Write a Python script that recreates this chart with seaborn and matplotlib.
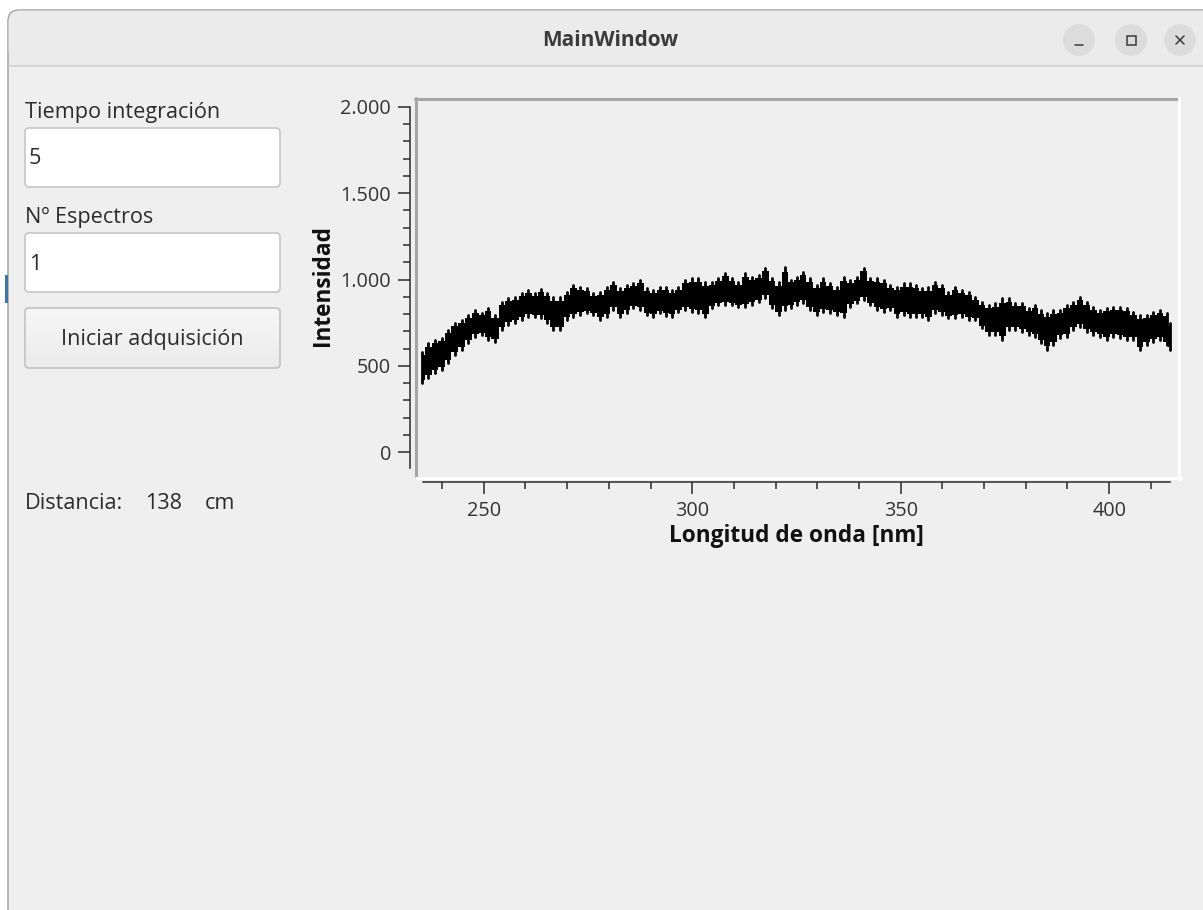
import numpy as np
import pandas as pd
import matplotlib
matplotlib.use("Agg")
import matplotlib.pyplot as plt
import seaborn as sns
from matplotlib.patches import FancyBboxPatch, Circle, Rectangle
from matplotlib.lines import Line2D
from matplotlib.colors import LinearSegmentedColormap
from matplotlib.ticker import MultipleLocator, FixedLocator, FuncFormatter

# Acquired spectrum: lowest and highest reading around each wavelength sample
wavelength_nm = [
    235.1, 236.7, 238.3, 240.0, 241.5, 243.0, 244.8, 246.3, 247.9, 249.6,
    251.0, 252.7, 254.4, 255.9, 257.5, 259.2, 260.7, 262.4, 263.8, 265.2,
    266.7, 268.3, 270.0, 271.5, 273.1, 274.8, 276.3, 277.9, 279.6, 281.1,
    282.7, 284.4, 285.9, 287.5, 289.2, 290.7, 292.3, 293.8, 295.2, 296.7,
    298.3, 300.0, 301.5, 303.1, 304.8, 306.3, 307.9, 309.6, 311.1, 312.7,
    314.4, 315.9, 317.5, 319.2, 320.7, 322.3, 323.7, 325.1, 326.6, 328.2,
    329.9, 331.4, 333.0, 334.7, 336.3, 337.9, 339.5, 341.1, 342.7, 344.4,
    345.9, 347.5, 349.2, 350.7, 352.3, 353.7, 355.1, 356.6, 358.2, 359.9,
    361.4, 363.0, 364.7, 366.3, 367.9, 369.5, 371.1, 372.7, 374.4, 375.9,
    377.5, 379.2, 380.7, 382.3, 383.7, 385.0, 386.6, 388.2, 389.8, 391.4,
    393.0, 394.6, 396.2, 397.8, 399.4, 401.0, 402.6, 404.2, 405.8, 407.4,
    409.0, 410.6, 412.2, 413.8, 414.6,
]
intensity_min = [
    400, 430, 458, 476, 517, 563, 591, 632, 667, 678,
    650, 638, 707, 736, 748, 765, 782, 782, 776, 748,
    707, 707, 765, 782, 793, 805, 793, 765, 782, 822,
    782, 805, 834, 822, 793, 782, 805, 788, 782, 811,
    822, 811, 805, 782, 834, 851, 851, 851, 840, 840,
    851, 868, 891, 834, 793, 822, 837, 851, 862, 822,
    793, 811, 805, 793, 782, 840, 862, 880, 851, 822,
    811, 822, 782, 793, 782, 785, 782, 765, 805, 793,
    776, 776, 782, 765, 765, 718, 678, 678, 650, 707,
    707, 695, 678, 667, 630, 591, 620, 661, 667, 707,
    724, 695, 678, 667, 650, 667, 661, 650, 650, 591,
    620, 638, 650, 620, 591,
]
intensity_max = [
    580, 632, 650, 661, 707, 748, 765, 793, 822, 805,
    834, 793, 868, 891, 897, 920, 938, 920, 945, 920,
    897, 897, 926, 967, 955, 950, 920, 926, 955, 984,
    950, 967, 978, 996, 950, 938, 955, 955, 938, 955,
    996, 1007, 1007, 984, 984, 1007, 1036, 1007, 984, 1036,
    1013, 1024, 1065, 1007, 984, 1071, 1000, 1013, 1042, 1007,
    967, 1007, 978, 955, 1013, 996, 1013, 1065, 1007, 1007,
    996, 967, 955, 978, 978, 967, 950, 955, 984, 967,
    926, 955, 938, 926, 897, 868, 851, 862, 891, 891,
    862, 862, 834, 851, 822, 805, 822, 822, 851, 868,
    897, 868, 840, 822, 834, 840, 840, 834, 811, 793,
    793, 811, 822, 805, 748,
]

y_major = [0, 500, 1000, 1500, 2000]
x_major = [250, 300, 350, 400]

window_title = "MainWindow"
field_labels = ["Tiempo integración", "Nº Espectros"]
field_values = ["5", "1"]
button_text = "Iniciar adquisición"
distance_value = "138"

W, H = 1203, 910
sns.set_theme(style="ticks")
plt.rcParams["font.family"] = ["Open Sans", "DejaVu Sans"]

TEXT = "#2c2c2c"
BODY = "#efefef"

fig = plt.figure(figsize=(W / 100, H / 100), dpi=100, facecolor="white")

# ---- window chrome, drawn on a full-figure pixel canvas ----
bg = fig.add_axes([0, 0, 1, 1], zorder=0)
bg.axis("off")

bg.add_patch(FancyBboxPatch((8, 10), W + 20, H + 20,
                            boxstyle="round,pad=0,rounding_size=11",
                            fc=BODY, ec="#9c9c9c", lw=1.0))
bg.add_patch(FancyBboxPatch((8.6, 10.6), W + 20, 50,
                            boxstyle="round,pad=0,rounding_size=11",
                            fc="#ebebeb", ec="none"))
bg.add_patch(Rectangle((8.6, 40), W + 20, 26, fc="#ebebeb", ec="none"))
bg.add_line(Line2D([8.6, W], [66, 66], color="#d2d2d2", lw=1.2))
bg.add_patch(Rectangle((4.5, 275), 3, 28, fc="#3d74a8", ec="none"))

bg.text(610, 41, window_title, ha="center", va="center",
        fontsize=15, fontweight="bold", color="#3a3a3a")

for cx in (1079, 1131, 1180):
    bg.add_patch(Circle((cx, 40), 16, fc="#dcdcdc", ec="none"))
bg.add_line(Line2D([1075, 1083], [45, 45], color="#3a3a3a", lw=1.1))
bg.add_patch(Rectangle((1127, 36), 9, 9, fc="none", ec="#3a3a3a", lw=1.1))
bg.add_line(Line2D([1176, 1184], [36, 44], color="#3a3a3a", lw=1.1))
bg.add_line(Line2D([1176, 1184], [44, 36], color="#3a3a3a", lw=1.1))

# ---- left control panel ----
LABEL_FS = 15.6
for label, value, y_label, y_box in zip(field_labels, field_values,
                                        (112.5, 217.5), (128, 233)):
    bg.text(25, y_label, label, ha="left", va="center",
            fontsize=LABEL_FS, color=TEXT)
    bg.add_patch(FancyBboxPatch((25, y_box), 255, 59,
                                boxstyle="round,pad=0,rounding_size=4",
                                fc="white", ec="#c6c6c6", lw=1.2))
    bg.text(29, y_box + 31, value, ha="left", va="center",
            fontsize=LABEL_FS, color=TEXT)

button = FancyBboxPatch((25, 308), 255, 60,
                        boxstyle="round,pad=0,rounding_size=4",
                        fc="none", ec="#c2c2c2", lw=1.2, zorder=2)
bg.add_patch(button)
grad = np.linspace(0, 1, 64).reshape(-1, 1)
img = bg.imshow(grad, extent=(25, 280, 368, 308), aspect="auto", zorder=1,
                cmap=LinearSegmentedColormap.from_list("btn", ["#f7f7f7", "#ebebeb"]))
img.set_clip_path(button)
bg.text(152.5, 339.5, button_text, ha="center", va="center",
        fontsize=LABEL_FS, color=TEXT, zorder=3)

bg.text(25, 503.5, "Distancia:", ha="left", va="center", fontsize=LABEL_FS, color=TEXT)
bg.text(145, 503.5, distance_value, ha="left", va="center", fontsize=LABEL_FS, color=TEXT)
bg.text(205, 503.5, "cm", ha="left", va="center", fontsize=LABEL_FS, color=TEXT)

# ---- plot view box (sunken frame) ----
box_l, box_r, box_t, box_b = 417, 1178, 100, 477
bg.add_line(Line2D([415.8, 415.8], [98, 478], color="#a6a6a6", lw=2.2))
bg.add_line(Line2D([414.8, 1179], [99, 99], color="#a6a6a6", lw=2.2))
bg.add_line(Line2D([416, 1180.5], [477.9, 477.9], color="white", lw=2.2))
bg.add_line(Line2D([1179.3, 1179.3], [98, 479], color="white", lw=2.2))
bg.set_xlim(0, W)
bg.set_ylim(H, 0)

ax = fig.add_axes([box_l / W, 1 - box_b / H, (box_r - box_l) / W, (box_b - box_t) / H],
                  zorder=2)
ax.set_facecolor("none")

wl = np.asarray(wavelength_nm, dtype=float)
lo = np.asarray(intensity_min, dtype=float)
hi = np.asarray(intensity_max, dtype=float)

# solid body of the noisy trace: most of each sample's range
spread = hi - lo
ax.fill_between(wl, lo + 0.1 * spread, hi - 0.1 * spread, step="mid",
                color="black", lw=0)

# individual excursions: one vertical stroke per sample from its min to its max
spikes = pd.DataFrame({
    "wavelength": np.repeat(wl, 2),
    "intensity": np.column_stack([lo, hi]).ravel(),
    "sample": np.repeat(np.arange(len(wl)), 2),
})
sns.lineplot(data=spikes, x="wavelength", y="intensity", units="sample",
             estimator=None, ax=ax, sort=False, color="black", lw=2.0)

ax.set_xlim(234.0, 416.5)
ax.set_ylim(-143, 2039)

for side in ("top", "right"):
    ax.spines[side].set_visible(False)
ax.spines["left"].set_position(("outward", 7 * 0.72))
ax.spines["bottom"].set_position(("outward", 5 * 0.72))
ax.spines["left"].set_bounds(-89, 2000)
ax.spines["bottom"].set_bounds(235.5, 414.6)
for side in ("left", "bottom"):
    ax.spines[side].set_color("#2a2a2a")
    ax.spines[side].set_linewidth(1.1)

ax.xaxis.set_major_locator(FixedLocator(x_major))
ax.xaxis.set_minor_locator(MultipleLocator(10))
ax.yaxis.set_major_locator(FixedLocator(y_major))
ax.yaxis.set_minor_locator(FixedLocator(np.arange(0, 2001, 100)))
ax.yaxis.set_major_formatter(FuncFormatter(lambda v, p: f"{int(v):,}".replace(",", ".")))

ax.tick_params(which="major", direction="out", length=12 * 0.72, width=1.1,
               color="#2a2a2a", labelsize=14.3, labelcolor="#333333", pad=7 * 0.72)
ax.tick_params(which="minor", direction="out", length=7 * 0.72, width=1.1,
               color="#2a2a2a")

ax.set_xlabel("Longitud de onda [nm]", fontsize=16.3, fontweight="bold", color="#111111")
ax.set_ylabel("Intensidad", fontsize=16.3, fontweight="bold", color="#111111")
ax.xaxis.set_label_coords((796 - box_l) / (box_r - box_l), (box_b - 536) / (box_b - box_t))
ax.yaxis.set_label_coords((323 - box_l) / (box_r - box_l), (box_b - 285) / (box_b - box_t))
ax.xaxis.label.set_va("center")
ax.yaxis.label.set_va("center")

fig.savefig("out.png", dpi=100, facecolor=fig.get_facecolor())
